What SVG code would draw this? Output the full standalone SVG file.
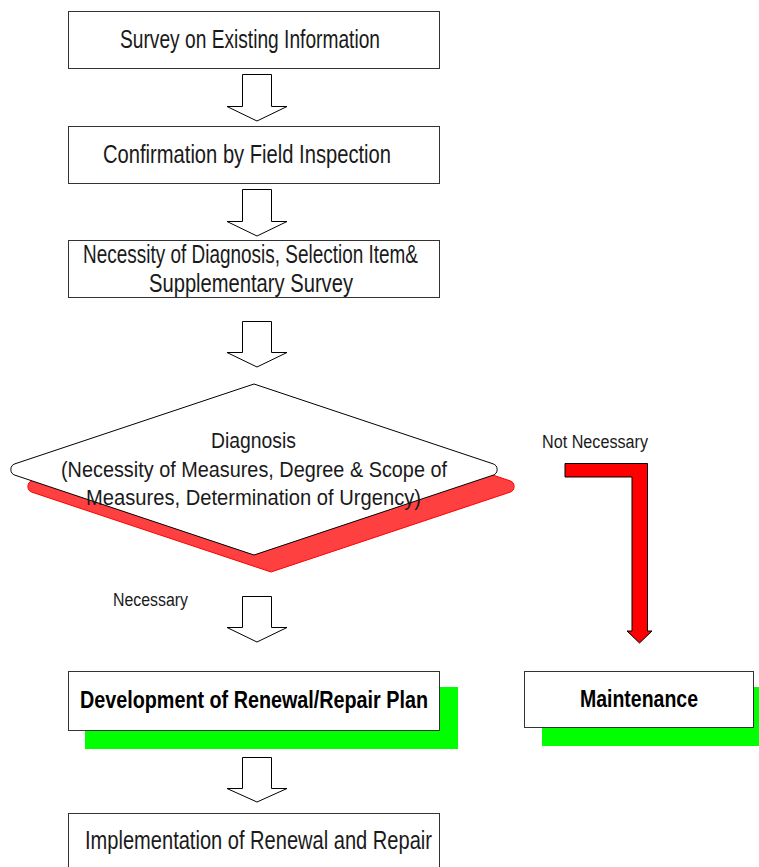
<svg xmlns="http://www.w3.org/2000/svg" width="759" height="867" viewBox="0 0 759 867">
  <defs>
    <style>
      .box { fill: #ffffff; stroke: #333333; stroke-width: 1; }
      .shadow-green { fill: #00ff00; stroke: none; }
      .shadow-red { fill: #ff4040; stroke: #ff0000; stroke-width: 1; }
      .blk { fill: #ffffff; stroke: #000000; stroke-width: 1; stroke-linejoin: miter; }
      .red-arrow { fill: #ff0000; stroke: #000000; stroke-width: 1; }
      .t { font-family: "Liberation Sans Narrow", "Liberation Sans", Arial, sans-serif; fill: #1a1a1a; text-anchor: start; }
      .t24 { font-size: 25px; }
      .t20 { font-size: 21.5px; }
      .t18 { font-size: 18px; }
      .b { font-weight: bold; fill: #000000; font-size: 23px; }
    </style>
    <!-- rounded-tip decision diamond -->
    <path id="diamond" d="M254,384 L493,463.8 A6,6 0 0 1 493,475.2 L254,555 L15,475.2 A6,6 0 0 1 15,463.8 Z"/>
  </defs>

  <rect width="759" height="867" fill="#ffffff"/>

  <g id="survey">
    <rect class="box" x="68.5" y="11.5" width="371" height="57"/>
    <text class="t t24" x="120" y="48" textLength="260" lengthAdjust="spacingAndGlyphs">Survey on Existing Information</text>
  </g>

  <g id="confirmation">
    <rect class="box" x="68.5" y="126.5" width="371" height="57"/>
    <text class="t t24" x="103" y="163" textLength="288" lengthAdjust="spacingAndGlyphs">Confirmation by Field Inspection</text>
  </g>

  <g id="necessity">
    <rect class="box" x="68.5" y="240.5" width="371" height="57"/>
    <text class="t t24" x="83" y="263" textLength="335" lengthAdjust="spacingAndGlyphs">Necessity of Diagnosis, Selection Item&amp;</text>
    <text class="t t24" x="149" y="292" textLength="204" lengthAdjust="spacingAndGlyphs">Supplementary  Survey</text>
  </g>

  <g id="diagnosis">
    <use href="#diamond" class="shadow-red" transform="translate(17,17)"/>
    <use href="#diamond" fill="#ffffff" stroke="#000000" stroke-width="1"/>
    <text class="t t20" x="211" y="448" textLength="85" lengthAdjust="spacingAndGlyphs">Diagnosis</text>
    <text class="t t20" x="61" y="477" textLength="386" lengthAdjust="spacingAndGlyphs">(Necessity of Measures, Degree &amp; Scope of</text>
    <text class="t t20" x="86" y="505" textLength="335" lengthAdjust="spacingAndGlyphs">Measures,  Determination of Urgency)</text>
  </g>

  <g id="plan">
    <rect class="shadow-green" x="85" y="687" width="373" height="62"/>
    <rect class="box" x="68.5" y="671.5" width="371" height="59"/>
    <text class="t b" x="80" y="708" textLength="348" lengthAdjust="spacingAndGlyphs">Development of Renewal/Repair Plan</text>
  </g>

  <g id="maintenance">
    <rect class="shadow-green" x="542" y="687" width="230" height="59"/>
    <rect class="box" x="524.5" y="671.5" width="229" height="56"/>
    <text class="t b" x="580" y="707" textLength="118" lengthAdjust="spacingAndGlyphs">Maintenance</text>
  </g>

  <g id="implementation">
    <rect class="box" x="68.5" y="813.5" width="371" height="60"/>
    <text class="t t24" x="85" y="849" textLength="347" lengthAdjust="spacingAndGlyphs">Implementation of Renewal and Repair</text>
  </g>

  <g id="connectors">
    <path class="blk" d="M242.5,74.5 H271.5 V106.5 H287 L257,121 L227,106.5 H242.5 Z"/>
    <path class="blk" d="M242.5,189.5 H271.5 V221.5 H287 L257,236 L227,221.5 H242.5 Z"/>
    <path class="blk" d="M242.5,321.5 H271.5 V352.5 H287 L257,367 L227,352.5 H242.5 Z"/>
    <path class="blk" d="M242.5,596.5 H271.5 V627.5 H287 L257,642 L227,627.5 H242.5 Z"/>
    <path class="blk" d="M242.5,757.5 H271.5 V788.5 H287 L257,802 L227,788.5 H242.5 Z"/>
    <path class="red-arrow" d="M565,463.5 H647.5 V631 H652 L639.5,643 L627,631 H632 V477 H565 Z"/>
    <text class="t t18" x="113" y="606" textLength="75" lengthAdjust="spacingAndGlyphs">Necessary</text>
    <text class="t t18" x="542" y="448" textLength="106" lengthAdjust="spacingAndGlyphs">Not Necessary</text>
  </g>
</svg>
